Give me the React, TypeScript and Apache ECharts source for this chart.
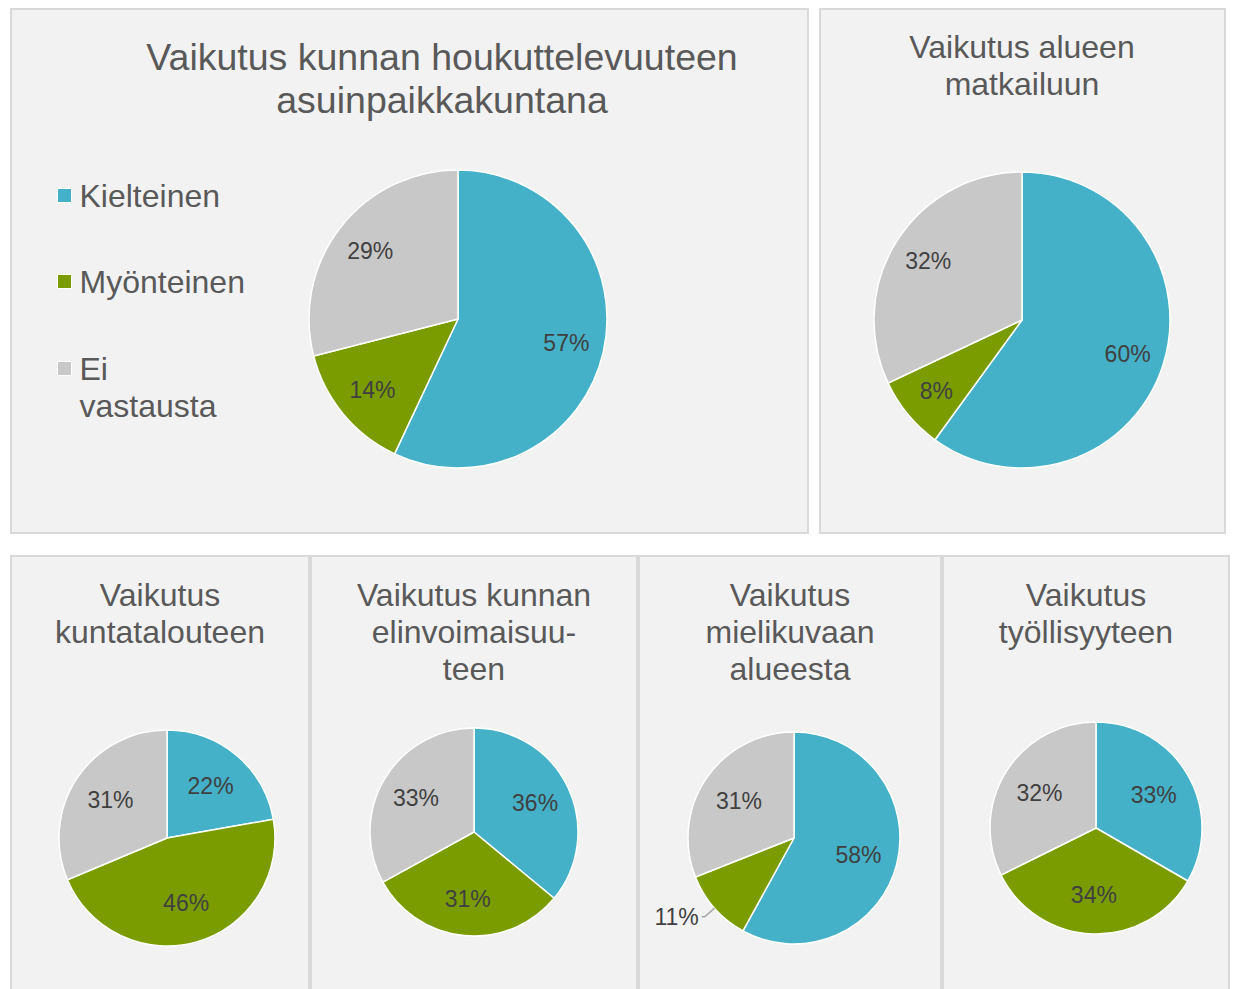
import React, { useEffect, useRef } from 'react';
import * as echarts from 'echarts';

const FONT = "'Liberation Sans', Arial, sans-serif";

const categories = ['Kielteinen', 'Myönteinen', 'Ei vastausta'];
const sliceColors = ['#44B1C8', '#7A9C00', '#C8C8C8'];

const titleHoukuttelevuus = 'Vaikutus kunnan houkuttelevuuteen\nasuinpaikkakuntana';
const valuesHoukuttelevuus = [57, 14, 29];
const titleMatkailu = 'Vaikutus alueen\nmatkailuun';
const valuesMatkailu = [60, 8, 32];
const titleKuntatalous = 'Vaikutus\nkuntatalouteen';
const valuesKuntatalous = [22, 46, 31];
const titleElinvoima = 'Vaikutus kunnan\nelinvoimaisuu-\nteen';
const valuesElinvoima = [36, 31, 33];
const titleMielikuva = 'Vaikutus\nmielikuvaan\nalueesta';
const valuesMielikuva = [58, 11, 31];
const titleTyollisyys = 'Vaikutus\ntyöllisyyteen';
const valuesTyollisyys = [33, 34, 32];

// layout (positions / sizes only)
const panels = [
  { x: 11, y: 9, w: 797, h: 524 },
  { x: 820, y: 9, w: 405, h: 524 },
  { x: 11, y: 556, w: 298, h: 450 },
  { x: 311, y: 556, w: 326, h: 450 },
  { x: 639, y: 556, w: 302, h: 450 },
  { x: 943, y: 556, w: 286, h: 450 },
];

const charts = [
  { title: titleHoukuttelevuus, values: valuesHoukuttelevuus, cx: 458, cy: 319, r: 149, inner: 0.45, tx: 442, ty: 35, fs: 37.5, lh: 43, outsideIdx: -1 },
  { title: titleMatkailu, values: valuesMatkailu, cx: 1022, cy: 320, r: 148, inner: 0.46, tx: 1022, ty: 28, fs: 32, lh: 37, outsideIdx: -1 },
  { title: titleKuntatalous, values: valuesKuntatalous, cx: 167, cy: 838, r: 108, inner: 0.2, tx: 160, ty: 576, fs: 32, lh: 37, outsideIdx: -1 },
  { title: titleElinvoima, values: valuesElinvoima, cx: 474, cy: 832, r: 104, inner: 0.24, tx: 474, ty: 576, fs: 32, lh: 37, outsideIdx: -1 },
  { title: titleMielikuva, values: valuesMielikuva, cx: 794, cy: 838, r: 106, inner: 0.2, tx: 790, ty: 576, fs: 32, lh: 37, outsideIdx: 1 },
  { title: titleTyollisyys, values: valuesTyollisyys, cx: 1096, cy: 828, r: 106, inner: 0.2, tx: 1086, ty: 576, fs: 32, lh: 37, outsideIdx: -1 },
];

export default function App() {
  const ref = useRef<HTMLDivElement>(null);

  useEffect(() => {
    if (!ref.current) return;
    const chart = echarts.init(ref.current, null, { renderer: 'svg' });

    const series: any[] = [];
    charts.forEach((c, ci) => {
      series.push({
        type: 'pie',
        name: 'pie' + ci,
        center: [c.cx, c.cy],
        radius: [0, c.r],
        startAngle: 90,
        clockwise: true,
        silent: true,
        label: { show: false },
        labelLine: { show: false },
        itemStyle: { borderColor: '#FFFFFF', borderWidth: 1.5 },
        emphasis: { disabled: true },
        data: categories.map((name, i) => ({
          name,
          value: c.values[i],
          itemStyle: { color: sliceColors[i] },
        })),
      });
      series.push({
        type: 'pie',
        name: 'labels' + ci,
        center: [c.cx, c.cy],
        radius: [c.r * c.inner, c.r],
        startAngle: 90,
        clockwise: true,
        silent: true,
        z: 3,
        itemStyle: { color: 'rgba(0,0,0,0)', borderWidth: 0 },
        emphasis: { disabled: true },
        label: {
          show: true,
          position: 'inside',
          formatter: '{c}%',
          fontSize: 23,
          color: '#404040',
          fontFamily: FONT,
        },
        labelLine: { show: false },
        data: categories.map((name, i) =>
          i === c.outsideIdx
            ? {
                name,
                value: c.values[i],
                label: { position: 'outside', distanceToLabelLine: 3 },
                labelLine: { show: true, length: 13, length2: 3, lineStyle: { color: '#A6A6A6', width: 1.5 } },
              }
            : { name, value: c.values[i] }
        ),
      });
    });

    const legendText = { fontSize: 32, lineHeight: 37, color: '#595959', fontFamily: FONT, padding: [0, 0, 0, 3] };
    const legendItem = (i: number) => ({
      name: categories[i],
      itemStyle: { color: sliceColors[i], borderColor: '#FFFFFF', borderWidth: 1 },
    });

    chart.setOption({
      animation: false,
      backgroundColor: '#FFFFFF',
      graphic: panels.map((p) => ({
        type: 'rect',
        z: -10,
        shape: { x: p.x, y: p.y, width: p.w, height: p.h },
        style: { fill: '#F2F2F2', stroke: '#D9D9D9', lineWidth: 2 },
        silent: true,
      })),
      title: charts.map((c) => ({
        text: c.title,
        left: c.tx,
        top: c.ty,
        textAlign: 'center',
        padding: 0,
        textStyle: {
          fontSize: c.fs,
          lineHeight: c.lh,
          fontWeight: 'normal',
          color: '#595959',
          fontFamily: FONT,
        },
      })),
      legend: [
        {
          orient: 'vertical',
          left: 57,
          top: 177,
          padding: 0,
          icon: 'rect',
          itemWidth: 14,
          itemHeight: 14,
          itemGap: 49,
          selectedMode: false,
          textStyle: legendText,
          data: [legendItem(0), legendItem(1)],
        },
        {
          orient: 'vertical',
          left: 57,
          top: 313,
          padding: 0,
          icon: 'rect',
          itemWidth: 14,
          itemHeight: 14,
          selectedMode: false,
          formatter: () => '\nEi\nvastausta',
          textStyle: legendText,
          data: [legendItem(2)],
        },
      ],
      series,
    });

    return () => chart.dispose();
  }, []);

  return (
    <div
      ref={ref}
      style={{ position: 'absolute', left: 0, top: 0, width: 1234, height: 989 }}
    />
  );
}
